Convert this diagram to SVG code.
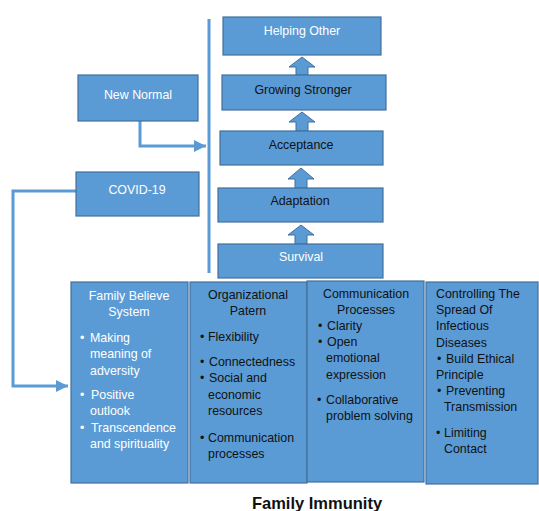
<svg xmlns="http://www.w3.org/2000/svg" width="539" height="511" viewBox="0 0 539 511">
<defs>
<style>
.box{fill:#5B9BD5;stroke:#41719C;stroke-width:1.2}
.t{font-family:"Liberation Sans",Arial,sans-serif;font-size:12.4px}
.w{fill:#ffffff}
.k{fill:#111111}
.c{text-anchor:middle}
.con{fill:none;stroke:#5B9BD5;stroke-width:3}
.up{fill:#5B9BD5;stroke:#41719C;stroke-width:1}
</style>
<marker id="ah" markerWidth="4" markerHeight="4" refX="4" refY="2" orient="auto" markerUnits="strokeWidth">
<path d="M0,0 L4,2 L0,4 Z" fill="#5B9BD5"/>
</marker>
</defs>
<rect width="539" height="511" fill="#ffffff"/>

<g id="connectors">
<line class="con" x1="209" y1="19" x2="209" y2="273"/>
<path class="con" d="M140,121 V146 H206" marker-end="url(#ah)"/>
<path class="con" d="M76,191 H13 V386 H68" marker-end="url(#ah)"/>
<path class="up" d="M296,75 V67 H289 L302,57 L315,67 H308 V75 Z"/>
<path class="up" d="M296,131 V122 H289 L302,112 L315,122 H308 V131 Z"/>
<path class="up" d="M295,188 V179 H288 L301,168 L314,179 H307 V188 Z"/>
<path class="up" d="M295,244 V235 H288 L301,225 L314,235 H307 V244 Z"/>
</g>

<g id="helping-other"><rect class="box" x="223" y="17" width="158" height="38"/><text class="t w c" x="302" y="34.5">Helping Other</text></g>
<g id="growing-stronger"><rect class="box" x="222" y="75" width="164" height="35"/><text class="t k c" x="303" y="93.5">Growing Stronger</text></g>
<g id="acceptance"><rect class="box" x="220" y="131" width="163" height="34"/><text class="t k c" x="301" y="148.5">Acceptance</text></g>
<g id="adaptation"><rect class="box" x="218" y="188" width="165" height="34"/><text class="t k c" x="300" y="204.5">Adaptation</text></g>
<g id="survival"><rect class="box" x="218" y="244" width="165" height="34"/><text class="t w c" x="301" y="260.5">Survival</text></g>
<g id="new-normal"><rect class="box" x="78" y="75" width="120" height="46"/><text class="t w c" x="138" y="98.5">New Normal</text></g>
<g id="covid-19"><rect class="box" x="76" y="172" width="123" height="44"/><text class="t w c" x="137" y="193.5">COVID-19</text></g>

<g id="family-believe-system">
<rect class="box" x="71" y="282" width="117" height="201"/>
<text class="t w c" x="129" y="299.5">Family Believe</text>
<text class="t w c" x="129" y="315.5">System</text>
<text class="t w"><tspan x="80" y="341.5">•</tspan><tspan x="90" y="341.5">Making</tspan><tspan x="90" y="358">meaning of</tspan><tspan x="90" y="374.5">adversity</tspan><tspan x="80" y="398.5">•</tspan><tspan x="91" y="398.5">Positive</tspan><tspan x="90" y="415">outlook</tspan><tspan x="80" y="431.5">•</tspan><tspan x="91" y="431.5">Transcendence</tspan><tspan x="90" y="447.5">and spirituality</tspan></text>
</g>

<g id="organizational-patern">
<rect class="box" x="190" y="282" width="117" height="201"/>
<text class="t k c" x="248" y="298.5">Organizational</text>
<text class="t k c" x="248" y="314.5">Patern</text>
<text class="t k"><tspan x="200" y="340.5">•</tspan><tspan x="208" y="340.5">Flexibility</tspan><tspan x="200" y="366">•</tspan><tspan x="209" y="366">Connectedness</tspan><tspan x="200" y="381.5">•</tspan><tspan x="209" y="381.5">Social and</tspan><tspan x="208" y="398.5">economic</tspan><tspan x="208" y="415">resources</tspan><tspan x="200" y="441.5">•</tspan><tspan x="208" y="441.5">Communication</tspan><tspan x="208" y="457.5">processes</tspan></text>
</g>

<g id="communication-processes">
<rect class="box" x="307" y="281" width="117" height="201"/>
<text class="t k c" x="366" y="297.5">Communication</text>
<text class="t k c" x="366" y="313.5">Processes</text>
<text class="t k"><tspan x="318" y="329.5">•</tspan><tspan x="327" y="329.5">Clarity</tspan><tspan x="318" y="345.5">•</tspan><tspan x="327" y="345.5">Open</tspan><tspan x="326" y="361.5">emotional</tspan><tspan x="326" y="378.5">expression</tspan><tspan x="317" y="403.5">•</tspan><tspan x="326" y="403.5">Collaborative</tspan><tspan x="326" y="419.5">problem solving</tspan></text>
</g>

<g id="controlling-the-spread">
<rect class="box" x="426" y="282" width="112" height="202"/>
<text class="t k"><tspan x="436" y="297.5">Controlling The</tspan><tspan x="436" y="313.5">Spread Of</tspan><tspan x="436" y="330">Infectious</tspan><tspan x="436" y="346.5">Diseases</tspan><tspan x="437" y="362.5">•</tspan><tspan x="446" y="362.5">Build Ethical</tspan><tspan x="436" y="378.5">Principle</tspan><tspan x="437" y="394.5">•</tspan><tspan x="446" y="394.5">Preventing</tspan><tspan x="444" y="411">Transmission</tspan><tspan x="436" y="436.5">•</tspan><tspan x="444" y="436.5">Limiting</tspan><tspan x="444" y="452.5">Contact</tspan></text>
</g>

<text id="title" x="317" y="509" text-anchor="middle" font-family="Liberation Sans, Arial, sans-serif" font-size="16.5" font-weight="bold" fill="#111111">Family Immunity</text>
</svg>
